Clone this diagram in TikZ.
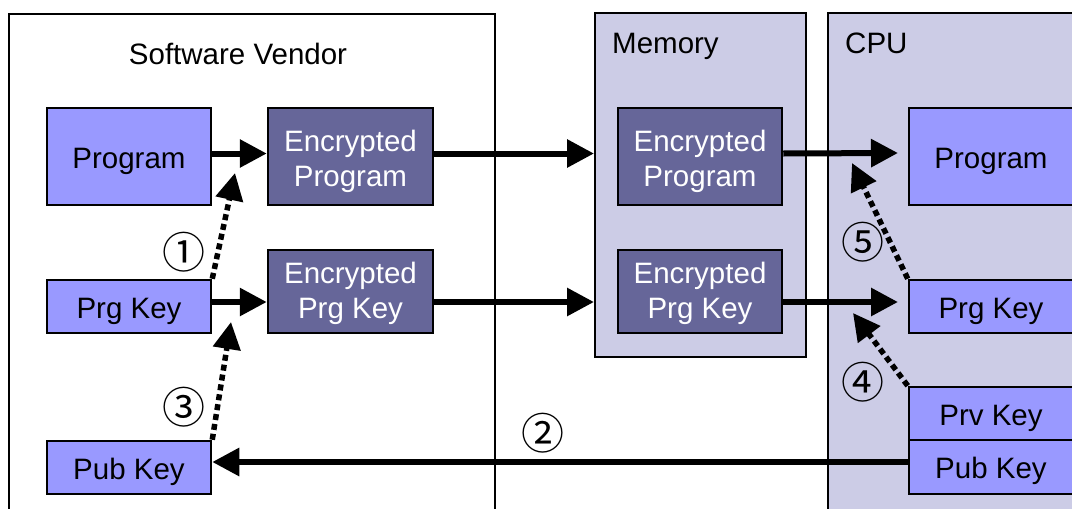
\documentclass[tikz,border=0pt]{standalone}
\usepackage{fontspec}
\setmainfont{Liberation Sans}
\newfontfamily\cjk{Noto Sans CJK JP}
\usetikzlibrary{arrows.meta}
\definecolor{lightbox}{HTML}{9999FF}
\definecolor{darkbox}{HTML}{666699}
\definecolor{contfill}{HTML}{CCCCE6}
\tikzset{
  every node/.style={font=\fontsize{29.5}{35}\selectfont, inner sep=0pt, align=center},
  oneline/.style={text height=23pt, text depth=0pt},
  twoline/.style={text height=#1, text depth=0pt},
  lbox/.style={draw=black, line width=2.5pt, fill=lightbox, minimum width=164pt, oneline},
  dbox/.style={draw=black, line width=2.5pt, fill=darkbox, text=white, minimum width=165pt},
  cont/.style={draw=black, line width=2pt, fill=contfill},
  arr/.style={line width=6pt, -{Triangle[length=27pt,width=27pt]}},
  darr/.style={line width=5.5pt, dash pattern=on 6pt off 4pt, -{Triangle[length=27pt,width=27pt]}},
  circnum/.style={font=\cjk\fontsize{43}{43}\selectfont},
  title/.style={anchor=base west}
}
\begin{document}
\begin{tikzpicture}[x=1pt, y=-1pt]
\clip (0,0) rectangle (1072,509);
\fill[white] (0,0) rectangle (1072,509);
% containers
\draw[line width=2pt] (9,530) -- (9,14) -- (495,14) -- (495,530);
\node[anchor=base] (svt) at (238,64) {Software Vendor};
\node[cont, minimum width=211pt, minimum height=344pt, anchor=north west] (mem) at (594,12) {};
\node[title] (memt) at (612,53) {Memory};
\node[cont, minimum width=260pt, minimum height=520pt, anchor=north west] (cpu) at (827,12) {};
\node[title] (cput) at (845,53) {CPU};
% software vendor boxes
\node[lbox, minimum height=97pt] (prog) at (129,156.5) {Program};
\node[dbox, twoline=59pt, minimum height=97pt] (eprog) at (350.5,156.5) {Encrypted\\Program};
\node[lbox, minimum height=53pt] (pkey) at (129,306.5) {Prg Key};
\node[dbox, twoline=54pt, minimum height=83pt] (epkey) at (350.5,291.5) {Encrypted\\Prg Key};
\node[lbox, minimum height=53pt] (pub) at (129,467.5) {Pub Key};
% memory boxes
\node[dbox, twoline=59pt, minimum width=164pt, minimum height=97pt] (meprog) at (700,156.5) {Encrypted\\Program};
\node[dbox, twoline=54pt, minimum width=164pt, minimum height=83pt] (mepkey) at (700,291.5) {Encrypted\\Prg Key};
% cpu boxes
\node[lbox, minimum height=97pt] (cprog) at (991,156.5) {Program};
\node[lbox, minimum height=53pt] (cpkey) at (991,306.5) {Prg Key};
\node[lbox, minimum height=53pt] (cprv) at (991,413.5) {Prv Key};
\node[lbox, minimum height=54pt] (cpub) at (991,467) {Pub Key};
% solid arrows
\draw[arr] ([yshift=3pt]prog.east) -- ([yshift=3pt]eprog.west);
\draw[arr] ([yshift=3pt]eprog.east) -- ([yshift=3pt]eprog.east -| mem.west);
\coordinate (t1) at (898,153);
\draw[arr] ([yshift=3pt]meprog.east) -- (t1);
\draw[arr] ([yshift=4.5pt]pkey.east) -- ([yshift=4.5pt]pkey.east -| epkey.west);
\draw[arr] ([yshift=-10.5pt]epkey.east) -- ([yshift=-10.5pt]epkey.east -| mem.west);
\coordinate (t2) at (898,302);
\draw[arr] ([yshift=-10.5pt]mepkey.east) -- (t2);
\draw[arr] ([yshift=5pt]cpub.west) -- ([yshift=5.5pt]pub.east);
% dotted arrows
\coordinate (d1) at (235,173);
\coordinate (d3) at (231,322);
\coordinate (d5) at (852,163);
\coordinate (d4) at (853,313);
\draw[darr] (pkey.north east) -- (d1);
\draw[darr] (pub.north east) -- (d3);
\draw[darr] (cpkey.north west) -- (d5);
\draw[darr] (cprv.north west) -- (d4);
% numbers
\node[circnum] (n1) at (184,252) {①};
\node[circnum] (n2) at (543,433) {②};
\node[circnum] (n3) at (184,407) {③};
\node[circnum] (n4) at (863,382) {④};
\node[circnum] (n5) at (863,242) {⑤};
\end{tikzpicture}
\end{document}
